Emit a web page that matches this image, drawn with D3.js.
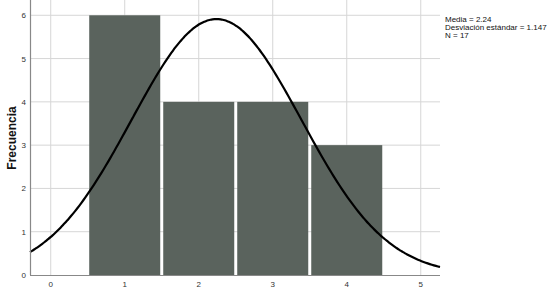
<!DOCTYPE html>
<html>
<head>
<meta charset="utf-8">
<script src="https://cdn.jsdelivr.net/npm/d3@7"></script>
<style>
  body { margin: 0; background: #fff; }
  svg { display: block; font-family: "Liberation Sans", Arial, sans-serif; }
</style>
</head>
<body>
<svg width="555" height="300"></svg>
<script>
// Histogram data
const bins = [1, 2, 3, 4];
const counts = [6, 4, 4, 3];
const xTicks = [0, 1, 2, 3, 4, 5];
const yTicks = [0, 1, 2, 3, 4, 5, 6];
const mean = 2.24, sd = 1.147, n = 17;
const statLines = ["Media = 2.24", "Desviación estándar = 1.147", "N = 17"];

const svg = d3.select("svg");
const plotLeft = 30, plotRight = 440, plotTop = 1, plotBottom = 275;

const x = d3.scaleLinear().domain([-0.28, 5.26]).range([plotLeft, plotRight]);
const y = d3.scaleLinear().domain([0, 6.33]).range([plotBottom, plotTop]);

// grid lines
svg.append("g")
  .selectAll("line")
  .data(yTicks.filter(d => d > 0))
  .enter().append("line")
  .attr("x1", plotLeft).attr("x2", plotRight)
  .attr("y1", d => y(d)).attr("y2", d => y(d))
  .attr("stroke", "#d6d6d6").attr("stroke-width", 1);

svg.append("g")
  .selectAll("line")
  .data(xTicks)
  .enter().append("line")
  .attr("x1", d => x(d)).attr("x2", d => x(d))
  .attr("y1", 0).attr("y2", plotBottom)
  .attr("stroke", "#d6d6d6").attr("stroke-width", 1);

// bars
svg.append("g")
  .selectAll("rect")
  .data(bins)
  .enter().append("rect")
  .attr("x", d => x(d - 0.5) + 1.5)
  .attr("width", d => x(d + 0.5) - x(d - 0.5) - 3)
  .attr("y", (d, i) => y(counts[i]))
  .attr("height", (d, i) => y(0) - y(counts[i]))
  .attr("fill", "#5a635d");

// normal curve scaled to counts
const pts = d3.range(0, 201).map(i => {
  const v = -0.28 + (5.26 + 0.28) * i / 200;
  const z = (v - mean) / sd;
  return [v, n * Math.exp(-0.5 * z * z) / (sd * Math.sqrt(2 * Math.PI))];
});
svg.append("path")
  .datum(pts)
  .attr("fill", "none")
  .attr("stroke", "#000")
  .attr("stroke-width", 2.2)
  .attr("d", d3.line().x(d => x(d[0])).y(d => y(d[1])).curve(d3.curveBasis));

// axes lines
svg.append("line")
  .attr("x1", plotLeft + 0.5).attr("x2", plotLeft + 0.5)
  .attr("y1", 0).attr("y2", plotBottom)
  .attr("stroke", "#888").attr("stroke-width", 1.2);
svg.append("line")
  .attr("x1", plotLeft).attr("x2", plotRight)
  .attr("y1", plotBottom + 0.5).attr("y2", plotBottom + 0.5)
  .attr("stroke", "#888").attr("stroke-width", 1.2);

// tick labels
svg.append("g")
  .selectAll("text")
  .data(yTicks)
  .enter().append("text")
  .attr("x", 26).attr("y", d => y(d) + 3)
  .attr("text-anchor", "end")
  .attr("font-size", "8px").attr("fill", "#333")
  .text(d => d);

svg.append("g")
  .selectAll("text")
  .data(xTicks)
  .enter().append("text")
  .attr("x", d => x(d)).attr("y", 287)
  .attr("text-anchor", "middle")
  .attr("font-size", "8px").attr("fill", "#333")
  .text(d => d);

// y axis title
svg.append("text")
  .attr("transform", "translate(16,138) rotate(-90)")
  .attr("text-anchor", "middle")
  .attr("font-size", "12px").attr("font-weight", "bold")
  .attr("fill", "#111")
  .text("Frecuencia");

// stats box
svg.append("g")
  .selectAll("text")
  .data(statLines)
  .enter().append("text")
  .attr("x", 445).attr("y", (d, i) => 22 + i * 8)
  .attr("font-size", "8px").attr("fill", "#111")
  .text(d => d);
</script>
</body>
</html>
